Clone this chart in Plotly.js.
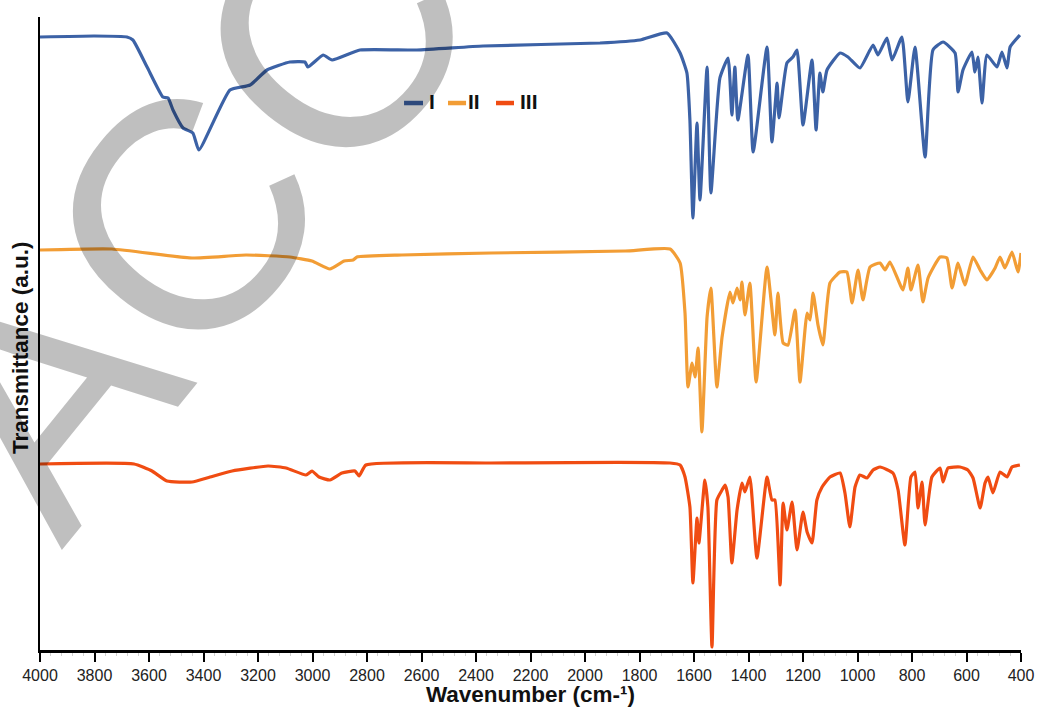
<!DOCTYPE html>
<html>
<head>
<meta charset="utf-8">
<script src="https://cdn.plot.ly/plotly-3.0.1.min.js"></script>
<style>html,body{margin:0;padding:0;background:#fff;}#chart{width:1038px;height:707px;}</style>
</head>
<body>
<div id="chart"></div>
<script>
// Wavenumber (cm-1) and transmittance (a.u., offset spectra)
const seriesNames = ["I", "II", "III"];
const seriesColors = ["#3c62a6", "#f29d35", "#f04c12"];

const wnI = [4000, 3800, 3681, 3659, 3607, 3549, 3530, 3512, 3475, 3439, 3417, 3303, 3229, 3167, 3083, 3028, 3017, 2961, 2928, 2826, 2617, 2374, 1945, 1798, 1699, 1651, 1626, 1615, 1604, 1589, 1578, 1552, 1538, 1505, 1475, 1461, 1450, 1439, 1402, 1383, 1332, 1314, 1295, 1288, 1259, 1237, 1222, 1200, 1167, 1152, 1138, 1127, 1112, 1064, 1035, 991, 943, 925, 892, 873, 837, 815, 789, 752, 723, 686, 642, 631, 613, 580, 569, 558, 543, 525, 488, 470, 451, 440, 404];
const tI = [6.11, 6.12, 6.11, 6.08, 5.81, 5.51, 5.50, 5.38, 5.20, 5.15, 4.98, 5.58, 5.63, 5.78, 5.86, 5.86, 5.81, 5.93, 5.88, 5.98, 5.98, 6.02, 6.05, 6.08, 6.15, 5.95, 5.75, 5.28, 4.30, 5.25, 4.48, 5.81, 4.55, 5.70, 5.90, 5.33, 5.81, 5.28, 5.93, 4.96, 6.01, 5.06, 5.65, 5.30, 5.85, 5.91, 5.98, 5.23, 5.88, 5.18, 5.75, 5.56, 5.78, 5.95, 5.91, 5.80, 6.03, 5.93, 6.10, 5.88, 6.11, 5.46, 6.01, 4.91, 5.98, 6.06, 5.95, 5.56, 5.78, 5.96, 5.76, 5.91, 5.45, 5.93, 5.81, 5.96, 5.80, 6.01, 6.13];

const wnII = [4000, 3736, 3442, 3244, 3083, 3002, 2936, 2884, 2851, 2837, 2672, 2345, 1853, 1688, 1651, 1633, 1622, 1607, 1596, 1585, 1571, 1552, 1538, 1516, 1497, 1468, 1457, 1442, 1431, 1424, 1413, 1395, 1372, 1332, 1303, 1292, 1273, 1255, 1229, 1211, 1185, 1174, 1163, 1145, 1127, 1101, 1064, 1039, 1020, 998, 980, 954, 917, 899, 881, 833, 815, 804, 778, 760, 741, 697, 672, 653, 631, 606, 576, 550, 525, 495, 477, 459, 433, 411, 400];
const tII = [3.98, 3.99, 3.90, 3.93, 3.91, 3.87, 3.79, 3.87, 3.88, 3.91, 3.93, 3.95, 3.97, 3.99, 3.85, 3.35, 2.61, 2.85, 2.71, 3.00, 2.16, 3.31, 3.60, 2.61, 3.11, 3.56, 3.45, 3.60, 3.48, 3.66, 3.33, 3.65, 2.66, 3.81, 3.13, 3.55, 3.05, 3.03, 3.38, 2.66, 3.35, 3.28, 3.55, 3.23, 3.03, 3.65, 3.76, 3.76, 3.45, 3.78, 3.48, 3.81, 3.85, 3.78, 3.86, 3.58, 3.80, 3.58, 3.83, 3.46, 3.70, 3.91, 3.90, 3.60, 3.85, 3.63, 3.91, 3.78, 3.68, 3.80, 3.91, 3.80, 3.96, 3.76, 3.95];

const wnIII = [4000, 3655, 3589, 3534, 3442, 3376, 3295, 3163, 3097, 3024, 3002, 2976, 2936, 2892, 2844, 2829, 2804, 2345, 1688, 1651, 1633, 1615, 1604, 1589, 1582, 1560, 1549, 1534, 1516, 1497, 1486, 1475, 1461, 1442, 1424, 1413, 1395, 1369, 1332, 1314, 1303, 1284, 1273, 1259, 1240, 1222, 1200, 1185, 1167, 1149, 1130, 1101, 1064, 1046, 1028, 1009, 991, 965, 943, 917, 870, 851, 826, 804, 789, 778, 763, 752, 727, 697, 686, 668, 624, 595, 576, 550, 532, 521, 503, 477, 451, 433, 404];
const tIII = [1.84, 1.84, 1.77, 1.67, 1.66, 1.71, 1.77, 1.82, 1.80, 1.73, 1.77, 1.71, 1.68, 1.75, 1.77, 1.72, 1.83, 1.85, 1.85, 1.83, 1.71, 1.41, 0.65, 1.30, 1.05, 1.68, 1.41, 0.01, 1.48, 1.58, 1.63, 1.51, 0.85, 1.38, 1.65, 1.56, 1.71, 0.90, 1.71, 1.48, 1.48, 0.63, 1.45, 1.18, 1.46, 0.98, 1.36, 1.16, 1.05, 1.48, 1.61, 1.71, 1.75, 1.55, 1.21, 1.61, 1.73, 1.70, 1.78, 1.81, 1.75, 1.58, 1.03, 1.71, 1.76, 1.40, 1.66, 1.23, 1.71, 1.80, 1.66, 1.80, 1.81, 1.78, 1.70, 1.40, 1.65, 1.71, 1.55, 1.76, 1.71, 1.81, 1.83];

const xTitle = "<b>Wavenumber (cm-¹)</b>";
const yTitle = "<b>Transmittance (a.u.)</b>";
const watermarkText = "ACCEPTED";

const xs = [wnI, wnII, wnIII];
const ys = [tI, tII, tIII];

const traces = seriesNames.map((n, i) => ({
  type: "scatter", mode: "lines", name: n,
  x: xs[i], y: ys[i],
  line: {color: seriesColors[i], width: 3.2, shape: "spline", smoothing: 0.45},
  showlegend: false
}));

// custom legend (short line samples like the original)
const legX = [[0.3711, 0.3904, 0.3996], [0.4159, 0.4343, 0.4429], [0.4648, 0.4832, 0.4980]];
const legY = 0.8641;
const shapes = seriesNames.map((n, i) => ({
  type: "line", xref: "paper", yref: "paper",
  x0: legX[i][0], x1: legX[i][1], y0: legY, y1: legY,
  line: {color: seriesColors[i], width: 4.5}
}));
const annotations = seriesNames.map((n, i) => ({
  xref: "paper", yref: "paper", x: legX[i][2], y: legY + 0.003,
  xanchor: "center", yanchor: "middle", showarrow: false,
  text: "<b>" + n + "</b>",
  font: {family: "Liberation Sans, Arial, sans-serif", size: 21, color: "#111"}
}));
// y-axis title placed like the original (slightly below axis centre)
annotations.push({
  xref: "paper", yref: "paper", x: -0.0194, y: 0.4787,
  xanchor: "center", yanchor: "middle", showarrow: false,
  text: yTitle, textangle: -90,
  font: {family: "Liberation Sans, Arial, sans-serif", size: 22.5, color: "#111"}
});
// watermark
annotations.push({
  xref: "paper", yref: "paper", x: 0.5, y: 1.355,
  xanchor: "center", yanchor: "middle", showarrow: false,
  text: watermarkText, textangle: -51,
  font: {family: "Liberation Sans, Arial, sans-serif", size: 325, color: "rgba(0,0,0,0.25)"}
});

const layout = {
  width: 1038, height: 707,
  margin: {l: 40, r: 17, t: 17, b: 57},
  paper_bgcolor: "#fff", plot_bgcolor: "#fff",
  font: {family: "Liberation Sans, Arial, sans-serif", color: "#222"},
  xaxis: {
    range: [4000, 400], tick0: 400, dtick: 200,
    ticks: "outside", ticklen: 9, tickwidth: 2, tickcolor: "#000",
    minor: {dtick: 40, ticks: "outside", ticklen: 3, tickwidth: 1, tickcolor: "#d0d0d0"},
    showline: true, linecolor: "#000", linewidth: 2.5,
    showgrid: false, zeroline: false,
    tickfont: {size: 16, color: "#222"},
    title: {text: xTitle, font: {size: 22.5, color: "#111"}}
  },
  yaxis: {
    range: [-0.02, 6.31],
    showticklabels: false, ticks: "",
    showline: true, linecolor: "#000", linewidth: 2.5,
    showgrid: false, zeroline: false
  },
  shapes: shapes,
  annotations: annotations
};

Plotly.newPlot("chart", traces, layout, {displayModeBar: false, staticPlot: true});
</script>
</body>
</html>
